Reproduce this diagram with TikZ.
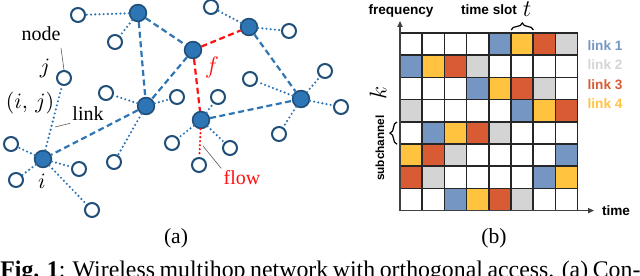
\documentclass[tikz,border=0pt]{standalone}
\usepackage{fontspec}
\setmainfont{Liberation Serif}
\setsansfont{Liberation Sans}
\usetikzlibrary{arrows.meta,decorations.pathreplacing}

\definecolor{netblue}{HTML}{2E75B6}
\definecolor{netdark}{HTML}{1F4E79}
\definecolor{flowred}{HTML}{FF1010}
\definecolor{slotblue}{HTML}{7596C3}
\definecolor{slotgray}{HTML}{D4D4D4}
\definecolor{slotred}{HTML}{D95B34}
\definecolor{slotyellow}{HTML}{FFC33F}
\colorlet{cell0}{white}
\colorlet{cell1}{slotblue}
\colorlet{cell2}{slotgray}
\colorlet{cell3}{slotred}
\colorlet{cell4}{slotyellow}

\begin{document}
\begin{tikzpicture}[
  x=0.5pt, y=-0.5pt,
  >={Triangle[length=3pt,width=2.6pt]},
  hub/.style={circle, draw=netdark, fill=netblue, line width=0.8pt, minimum size=8.4pt, inner sep=0pt},
  leaf/.style={circle, draw=netdark, fill=white, line width=1pt, minimum size=7pt, inner sep=0pt},
  trunk/.style={netblue, line width=1.1pt, dash pattern=on 3pt off 1.8pt},
  twig/.style={netblue, line width=1.2pt, line cap=round, dash pattern=on 0pt off 2.1pt},
  route/.style={flowred, line width=1.1pt, dash pattern=on 3pt off 1.8pt},
  routedot/.style={flowred, line width=1.2pt, line cap=round, dash pattern=on 0pt off 2pt},
  leader/.style={gray!70!black, line width=0.3pt},
  tag/.style={font=\fontsize{10}{12}\selectfont, inner sep=1pt},
  mathtag/.style={font=\fontsize{11}{13}\selectfont, inner sep=0pt},
  slot/.style={font=\sffamily\bfseries\fontsize{6.8}{8}\selectfont, inner sep=0pt},
  gridline/.style={black!85, line width=0.75pt},
  axis/.style={black!75, line width=0.6pt},
  brace/.style={decorate, decoration={brace, amplitude=3.5pt}, line width=0.6pt},
]
\useasboundingbox (0,0) rectangle (640,276);
\clip (0,0) rectangle (640,276);

% network
\node[hub] (ha) at (138,13) {};
\node[hub] (hb) at (193,50) {};
\node[hub] (hc) at (249,27) {};
\node[hub] (hd) at (146,106) {};
\node[hub] (he) at (301,99) {};
\node[hub] (hf) at (201,120) {};
\node[hub] (hi) at (43,159) {};

\node[leaf] (l1) at (78,15) {};
\node[leaf] (l2) at (115,42) {};
\node[leaf] (lj) at (64,78) {};
\node[leaf] (l3) at (106,93) {};
\node[leaf] (l4) at (177,97) {};
\node[leaf] (l5) at (114,162) {};
\node[leaf] (l6) at (11,144) {};
\node[leaf] (l7) at (16,180) {};
\node[leaf] (l8) at (79,169) {};
\node[leaf] (l9) at (92,210) {};
\node[leaf] (l10) at (211,7) {};
\node[leaf] (l11) at (289,31) {};
\node[leaf] (l12) at (250,79) {};
\node[leaf] (l13) at (218,97) {};
\node[leaf] (l14) at (172,143) {};
\node[leaf] (l15) at (230,148) {};
\node[leaf] (l16) at (279,134) {};
\node[leaf] (l17) at (325,71) {};
\node[leaf] (l18) at (341,107) {};
\node[leaf] (lflow) at (199,165) {};

\draw[trunk] (ha) -- (hb);
\draw[trunk] (ha) -- (hd);
\draw[trunk] (hb) -- (hd);
\draw[trunk] (hd) -- (hi);
\draw[trunk] (hc) -- (he);
\draw[trunk] (hf) -- (he);
\draw[route] (hb) -- (hc);
\draw[route] (hb) -- (hf);
\draw[routedot] (hf) -- (lflow);
\foreach \a/\b in {ha/l1, ha/l2, hi/lj, hd/l3, hd/l4, hd/l5, hi/l6, hi/l7, hi/l8, hi/l9,
                   hc/l10, hc/l11, he/l12, hf/l13, hf/l14, hf/l15, he/l16, he/l17, he/l18}
  \draw[twig] (\a) -- (\b);

\node[tag] (nodelbl) at (41,34) {node};
\node[mathtag] (jlbl) at (45,68) {$j$};
\node[mathtag] (ijlbl) at (30,103) {$(i,\,j)$};
\node[tag] (linklbl) at (88,114) {link};
\node[mathtag] (ilbl) at (42,181) {$i$};
\node[mathtag, text=flowred, font=\fontsize{12}{14}\selectfont] (flbl) at (212,68) {$f$};
\node[tag, text=flowred] (flowlbl) at (242,178) {flow};

\coordinate (nodept) at (61,48);
\coordinate (linkpt) at (55,127);
\coordinate (flowpt) at (203,146);
\draw[leader] (nodept) -- (lj.north);
\draw[leader] (linkpt) -- (linklbl.south west);
\draw[leader] (flowpt) -- (flowlbl.north west);

% slot grid
\foreach \cells [count=\r] in {{0,0,0,0,1,4,3,2},{1,4,3,2,0,0,0,0},{0,0,0,1,4,3,2,0},{2,0,0,0,0,1,4,3},
                               {0,1,4,3,2,0,0,0},{4,3,2,0,0,0,0,1},{3,2,0,0,0,0,1,4},{0,0,1,4,3,2,0,0}}
  \foreach \v [count=\c] in \cells
    \fill[cell\v] ({400+(\c-1)*22.2},{33+(\r-1)*22.2}) rectangle +(22.2,22.2);
\foreach \k in {0,...,8} {
  \draw[gridline] ({400+\k*22.2},33) -- ++(0,177.6);
  \draw[gridline] (400,{33+\k*22.2}) -- ++(177.6,0);
}
\coordinate (origin) at (400,210.6);
\coordinate (ytip) at (400,21);
\coordinate (xtip) at (594,210.6);
\draw[axis,->] (origin) -- (ytip);
\draw[axis,->] (origin) -- (xtip);

\node[slot] (freqlbl) at (401,11) {frequency};
\node[slot] (slotlbl) at (489,10) {time slot};
\node[inner sep=0pt, font=\fontsize{13}{15}\selectfont] (tlbl) at (527,9) {$t$};
\node[slot] (timelbl) at (616,211) {time};
\node[slot, rotate=90, font=\sffamily\bfseries\fontsize{5.9}{7}\selectfont] (sublbl) at (380,148) {subchannel};
\node[rotate=90, inner sep=0pt, font=\fontsize{12.5}{14}\selectfont] (klbl) at (378,93) {$k$};
\draw[brace] (511.2,30) -- (533.4,30);
\draw[brace] (397,144.2) -- (397,122);

\node[slot, text=slotblue] (leg1) at (605,46) {link 1};
\node[slot, text=slotgray] (leg2) at (605,65) {link 2};
\node[slot, text=slotred] (leg3) at (605,85) {link 3};
\node[slot, text=slotyellow] (leg4) at (605,104) {link 4};

% captions
\node[font=\fontsize{10.8}{13}\selectfont] (suba) at (176,238) {(a)};
\node[font=\fontsize{10.8}{13}\selectfont] (subb) at (494,238) {(b)};
\node[anchor=base west, inner sep=0pt, font=\fontsize{11.9}{15}\selectfont] (caption) at (0,278)
  {\makebox[320pt][s]{\textbf{Fig. 1}: Wireless multihop network with orthogonal access. (a) Con-}};
\end{tikzpicture}
\end{document}
